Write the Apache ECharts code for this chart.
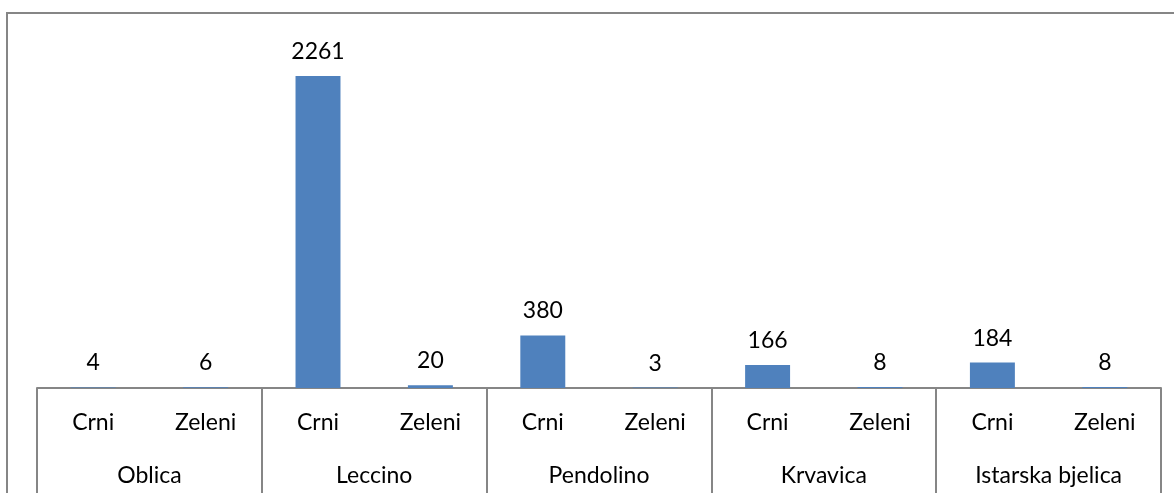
<!DOCTYPE html>
<html>
<head>
<meta charset="utf-8">
<script src="https://cdn.jsdelivr.net/npm/echarts@6/dist/echarts.min.js"></script>
<style>
  html, body { margin: 0; padding: 0; background: #fff; }
  #chart { width: 1174px; height: 493px; }
</style>
</head>
<body>
<div id="chart"></div>
<script>
// sorte maslina i boja ploda
const varieties = ['Oblica', 'Leccino', 'Pendolino', 'Krvavica', 'Istarska bjelica'];
const colours = ['Crni', 'Zeleni'];
const counts = [4, 6, 2261, 20, 380, 3, 166, 8, 184, 8];

const categories = [];
varieties.forEach(() => colours.forEach(c => categories.push(c)));

const gray = '#868686';
const font = 'Lato';

const chart = echarts.init(document.getElementById('chart'));

const option = {
    animation: false,
    textStyle: { fontFamily: font },
    grid: { left: 37, right: 13, top: 43, bottom: 105 },
    graphic: [{
        type: 'rect',
        shape: { x: 7, y: 13, width: 1300, height: 700 },
        style: { fill: 'none', stroke: gray, lineWidth: 2 },
        silent: true
    }],
    xAxis: [
        {
            type: 'category',
            data: categories,
            position: 'bottom',
            axisLine: { show: true, lineStyle: { color: gray, width: 2 } },
            axisTick: { show: false },
            axisLabel: { color: '#000', fontSize: 23, margin: 23, fontFamily: font }
        },
        {
            type: 'category',
            data: varieties,
            position: 'bottom',
            axisLine: { show: false },
            axisTick: { show: true, length: 110, lineStyle: { color: gray, width: 2 } },
            axisLabel: { color: '#000', fontSize: 23, margin: 76, fontFamily: font }
        }
    ],
    yAxis: {
        type: 'value',
        min: 0,
        max: 2500,
        show: false,
        splitLine: { show: false }
    },
    series: [{
        type: 'bar',
        xAxisIndex: 0,
        data: counts,
        barCategoryGap: '60%',
        itemStyle: { color: '#4f81bd' },
        label: {
            show: true,
            position: 'top',
            distance: 13,
            color: '#000',
            fontSize: 23,
            fontFamily: font
        }
    }]
};

chart.setOption(option);
</script>
</body>
</html>
